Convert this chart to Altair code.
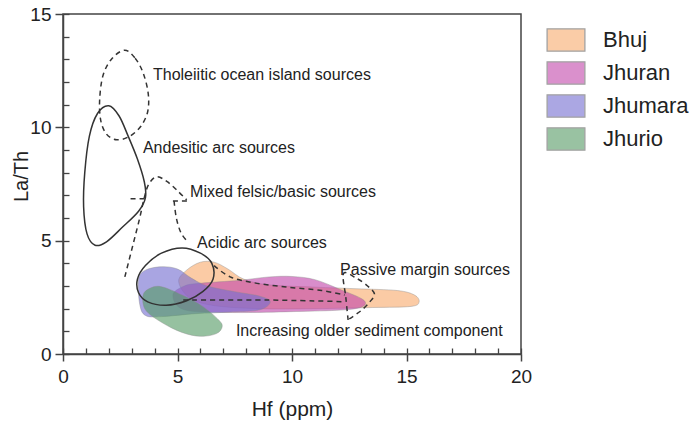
import altair as alt
import pandas as pd

# ---- sample envelopes: Hf (ppm) vs La/Th ----
bhuj_hf = [5.05, 5.4, 6.0, 6.6, 7.2, 7.9, 9.0, 11.0, 12.8, 14.6, 15.35, 15.55, 15.2, 13.5, 11.0, 8.5, 6.5, 5.5]
bhuj_lath = [3.2, 3.7, 4.05, 4.05, 3.75, 3.3, 3.05, 2.95, 2.88, 2.8, 2.6, 2.3, 2.1, 2.05, 2.0, 2.0, 2.15, 2.5]

jhuran_hf = [4.8, 5.3, 6.0, 7.7, 9.0, 10.0, 11.0, 12.1, 13.1, 13.1, 12.3, 10.4, 7.4, 5.3]
jhuran_lath = [2.6, 3.0, 3.12, 3.25, 3.4, 3.42, 3.28, 2.85, 2.4, 2.1, 1.95, 1.88, 1.83, 1.95]

jhumara_hf = [3.3, 3.6, 4.3, 5.0, 5.6, 6.3, 7.5, 8.6, 9.05, 8.6, 7.3, 5.8, 4.3, 3.6, 3.35]
jhumara_lath = [3.3, 3.7, 3.85, 3.75, 3.35, 3.0, 2.75, 2.55, 2.3, 1.95, 1.85, 1.78, 1.65, 1.7, 2.2]

jhurio_hf = [3.5, 3.8, 4.3, 5.2, 6.1, 6.8, 6.95, 6.7, 6.0, 5.2, 4.3, 3.6]
jhurio_lath = [2.6, 2.9, 2.97, 2.6, 2.1, 1.5, 1.2, 0.9, 0.78, 0.95, 1.4, 1.95]

groups = ["Bhuj", "Jhuran", "Jhumara", "Jhurio"]
group_fill = ["#f8ab6d", "#c247ab", "#756dd1", "#569b65"]

# ---- source fields (closed outlines) ----
andesitic_hf = [2.0, 2.45, 2.85, 3.25, 3.55, 3.6, 3.3, 2.6, 1.9, 1.4, 1.05, 0.9, 0.95, 1.15, 1.5]
andesitic_lath = [10.95, 10.5, 9.6, 8.6, 7.6, 6.9, 6.3, 5.6, 4.95, 4.8, 5.3, 6.5, 8.0, 9.6, 10.6]

acidic_hf = [5.2, 6.0, 6.5, 6.55, 6.1, 5.4, 4.5, 3.7, 3.3, 3.25, 3.6, 4.3]
acidic_lath = [4.68, 4.45, 4.0, 3.3, 2.75, 2.35, 2.15, 2.3, 2.7, 3.3, 3.9, 4.45]

tholeiitic_hf = [2.7, 3.15, 3.5, 3.72, 3.7, 3.4, 2.9, 2.35, 1.9, 1.65, 1.6, 1.75, 2.15]
tholeiitic_lath = [13.4, 13.05, 12.4, 11.5, 10.7, 10.05, 9.6, 9.45, 9.7, 10.3, 11.2, 12.3, 13.05]

# ---- dashed open boundaries ----
dashed_paths = {
    "mixed_a": ([2.7, 3.05, 3.35, 3.55, 3.75, 4.1, 4.55, 5.0, 5.4],
                [3.4, 4.8, 6.0, 6.9, 7.5, 7.82, 7.6, 7.2, 6.8]),
    "mixed_b": ([4.85, 4.95, 5.15, 5.45], [6.75, 6.0, 5.35, 4.95]),
    "mixed_cap_l": ([2.95, 3.6], [6.85, 6.85]),
    "mixed_cap_r": ([4.8, 5.45], [6.75, 6.75]),
    "passive": ([12.45, 12.35, 12.25, 12.8, 13.3, 13.6, 13.4, 13.0, 12.5],
                [1.5, 2.5, 3.55, 3.35, 3.0, 2.65, 2.3, 1.9, 1.55]),
    "trend_upper": ([6.6, 7.3, 8.3, 9.8, 11.3, 12.3], [3.9, 3.4, 3.15, 2.95, 2.8, 2.6]),
    "trend_lower": ([5.25, 8.9, 11.5, 12.3], [2.38, 2.38, 2.33, 2.3]),
}

# ---- field labels ----
label_text = ["Tholeiitic ocean island sources", "Andesitic arc sources",
              "Mixed felsic/basic sources", "Acidic arc sources",
              "Passive margin sources", "Increasing older sediment component"]
label_hf = [3.93, 3.49, 5.55, 5.85, 12.1, 7.55]
label_lath = [12.3, 9.09, 7.15, 4.9, 3.7, 1.01]

# unit tick positions along each axis (labelled every 5)
x_ticks = list(range(0, 21))
y_ticks = list(range(0, 16))

FONT = "Liberation Sans"
INK = "#333333"
EDGE = "#444444"

major = "datum.value % 5 === 0"
major_only_tick = {"condition": {"test": major, "value": 1}, "value": 0}

xs = alt.Scale(domain=[0, 20], nice=False, zero=False)
ys = alt.Scale(domain=[0, 15], nice=False, zero=False)

# Outward ticks only at labelled values; the short dashed grid segments give the
# inward unit ticks (bottom end of each x grid line, left end of each y grid line).
x_axis = alt.Axis(values=x_ticks, title="Hf (ppm)", tickSize=7, tickOpacity=major_only_tick,
                  labelExpr=f"{major} ? datum.label : ''",
                  grid=True, gridColor=EDGE, gridWidth=1.3, gridOpacity=1,
                  gridDash=[6, 334], gridDashOffset=6,
                  labelPadding=6, labelFontSize=19, titleFontSize=21, titlePadding=12,
                  labelFlush=False, labelOverlap=False)
y_axis = alt.Axis(values=y_ticks, title="La/Th", tickSize=8, tickOpacity=major_only_tick,
                  labelExpr=f"{major} ? datum.label : ''",
                  grid=True, gridColor=EDGE, gridWidth=1.3, gridOpacity=1,
                  gridDash=[6, 1000],
                  labelPadding=4, labelFontSize=19, titleFontSize=20,
                  titleX=-36, titleY=162, titleBaseline="alphabetic", titleAngle=270,
                  labelFlush=False, labelOverlap=False)
X = alt.X("hf:Q", scale=xs, axis=x_axis)
Y = alt.Y("lath:Q", scale=ys, axis=y_axis)


def frame(hf, lath):
    return pd.DataFrame({"hf": hf, "lath": lath, "i": list(range(len(hf)))})


layers = []

# filled sample envelopes
for name, hf, lath, col in zip(groups,
                               [bhuj_hf, jhuran_hf, jhumara_hf, jhurio_hf],
                               [bhuj_lath, jhuran_lath, jhumara_lath, jhurio_lath],
                               group_fill):
    layers.append(
        alt.Chart(frame(hf, lath)).mark_line(
            interpolate="cardinal-closed", fill=col, fillOpacity=0.62,
            stroke="#8a8a8a", strokeOpacity=0.5, strokeWidth=0.8
        ).encode(x=X, y=Y, order="i:Q")
    )

# solid source outlines
for hf, lath in [(andesitic_hf, andesitic_lath), (acidic_hf, acidic_lath)]:
    layers.append(
        alt.Chart(frame(hf, lath)).mark_line(
            interpolate="cardinal-closed", stroke=INK, strokeWidth=1.5
        ).encode(x=X, y=Y, order="i:Q")
    )

# dashed tholeiitic outline
layers.append(
    alt.Chart(frame(tholeiitic_hf, tholeiitic_lath)).mark_line(
        interpolate="cardinal-closed", stroke=INK, strokeWidth=1.5, strokeDash=[5, 4]
    ).encode(x=X, y=Y, order="i:Q")
)

# dashed open boundaries
for key, (hf, lath) in dashed_paths.items():
    layers.append(
        alt.Chart(frame(hf, lath)).mark_line(
            interpolate="cardinal", stroke=INK, strokeWidth=1.5, strokeDash=[5, 4]
        ).encode(x=X, y=Y, order="i:Q")
    )

# field labels
layers.append(
    alt.Chart(pd.DataFrame({"hf": label_hf, "lath": label_lath, "label": label_text}))
    .mark_text(align="left", baseline="middle", fontSize=16, font=FONT, color="#222222")
    .encode(x=X, y=Y, text="label:N")
)

# legend entries
layers.append(
    alt.Chart(pd.DataFrame({"group": groups, "hf": [0] * 4, "lath": [0] * 4}))
    .transform_filter(alt.datum.hf > 100)
    .mark_square()
    .encode(
        x=X, y=Y,
        fill=alt.Fill("group:N", scale=alt.Scale(domain=groups, range=group_fill),
                      legend=alt.Legend(
                          title=None, orient="none", legendX=484, legendY=7,
                          symbolType="M-1.05,-0.62H1.05V0.62H-1.05Z", symbolSize=1296,
                          symbolStrokeColor="#666666", symbolStrokeWidth=1.3,
                          symbolOpacity=0.6, labelFontSize=22, labelOffset=18,
                          rowPadding=0, padding=0, labelColor="#222222")),
    )
)

chart = alt.layer(*layers).properties(
    width=458, height=340,
    autosize=alt.AutoSizeParams(type="none"),
    padding={"left": 63, "top": 14, "right": 171, "bottom": 73},
).configure(font=FONT).configure_view(
    stroke=EDGE, strokeWidth=1.5
).configure_axis(
    domainColor=EDGE, domainWidth=1.5, tickColor=EDGE, tickWidth=1.5,
    labelColor="#222222", titleColor="#222222", labelFont=FONT, titleFont=FONT,
    titleFontWeight="normal"
)

chart.save("out.html", embed_options={"renderer": "svg", "actions": False})
